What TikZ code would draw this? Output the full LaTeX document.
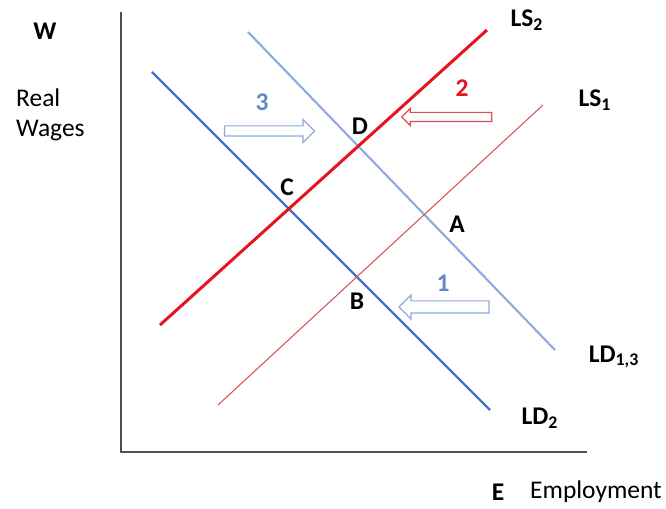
\documentclass[tikz,border=0pt]{standalone}
\usepackage{fontspec}
\setmainfont{Carlito}
\usepackage{xcolor}
\usetikzlibrary{shapes.arrows}
\definecolor{axisGray}{RGB}{80,80,80}
\definecolor{demandDark}{RGB}{68,114,196}
\definecolor{demandLight}{RGB}{143,170,220}
\definecolor{shiftBlue}{RGB}{100,138,198}
\definecolor{supplyRed}{RGB}{230,20,30}
\definecolor{supplyThin}{RGB}{220,80,80}

\begin{document}
\begin{tikzpicture}[
  x=0.02cm, y=-0.02cm,
  every node/.style={font=\fontsize{14.5}{17}\selectfont},
  curve/.style={draw=#1, line width=1.2pt},
  pointlbl/.style={font=\fontsize{14.5}{17}\selectfont\bfseries},
  shiftarrow/.style={
    single arrow,
    draw=#1,
    fill=white,
    line width=0.7pt,
    inner xsep=0pt,
    inner ysep=0.09cm,
    single arrow head extend=0.13cm,
    minimum height=1.8cm
  }
]
  \useasboundingbox (0,0) rectangle (666,509);

  % axes
  \coordinate (top) at (121,12);
  \coordinate (origin) at (121,452);
  \coordinate (right) at (587,452);
  \draw[axisGray, line width=0.9pt] (top) -- (origin) -- (right);

  % demand and supply curves
  \coordinate (ld2a) at (152,72);
  \coordinate (ld2b) at (490,410);
  \coordinate (ld13a) at (248,32);
  \coordinate (ld13b) at (555,350);
  \coordinate (ls2a) at (160,325);
  \coordinate (ls2b) at (487,30);
  \coordinate (ls1a) at (218,405);
  \coordinate (ls1b) at (543,105);
  \draw[curve=demandDark, line width=1.4pt] (ld2a) -- (ld2b);
  \draw[curve=demandLight] (ld13a) -- (ld13b);
  \draw[curve=supplyThin, line width=0.6pt] (ls1a) -- (ls1b);
  \draw[curve=supplyRed, line width=1.7pt] (ls2a) -- (ls2b);

  % curve labels
  \node[pointlbl] (lLStwo) at (527,20) {LS\textsubscript{2}};
  \node[pointlbl] (lLSone) at (595,100) {LS\textsubscript{1}};
  \node[pointlbl] (lLDot) at (614,357) {LD\textsubscript{1,3}};
  \node[pointlbl] (lLDtwo) at (540,418) {LD\textsubscript{2}};

  % equilibrium points
  \node[pointlbl] (pD) at (360,126) {D};
  \node[pointlbl] (pC) at (287,187) {C};
  \node[pointlbl] (pA) at (457,224) {A};
  \node[pointlbl] (pB) at (357,301) {B};

  % shifts
  \node[shiftarrow=demandLight] (sh3) at (267,131) {};
  \node[shiftarrow=supplyThin, shape border rotate=180,
        inner ysep=0.08cm, single arrow head extend=0.08cm] (sh2) at (449,117) {};
  \node[shiftarrow=demandLight, shape border rotate=180,
        inner ysep=0.11cm, single arrow head extend=0.12cm] (sh1) at (447,307) {};
  \node[pointlbl, text=shiftBlue] (n3) at (262,102) {3};
  \node[pointlbl, text=supplyRed] (n2) at (462,88) {2};
  \node[pointlbl, text=shiftBlue] (n1) at (443,283) {1};

  % axis titles
  \node[pointlbl] (ttlW) at (45,31) {W};
  \node[anchor=west] (ttlReal) at (10,98) {Real};
  \node[anchor=west] (ttlWages) at (10,131) {Wages};
  \node[pointlbl] (ttlE) at (498,492) {E};
  \node[anchor=west] (ttlEmp) at (524,492) {Employment};
\end{tikzpicture}
\end{document}
